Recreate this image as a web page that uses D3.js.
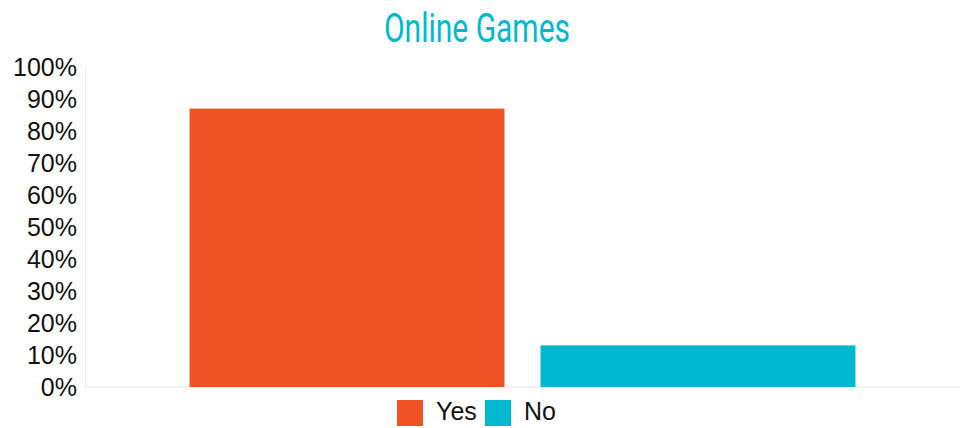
<!DOCTYPE html>
<html><head><meta charset="utf-8">
<script src="https://cdn.jsdelivr.net/npm/d3@7"></script>
<style>body{margin:0;background:#fff;}</style>
</head><body>
<svg id="c" width="966" height="428"></svg>
<script>
const title = "Online Games";
const categories = ["Online Games"];
const seriesNames = ["Yes", "No"];
const seriesValues = [87, 13];
const seriesColors = ["#F05125", "#00B8CF"];
const yTicks = [0,10,20,30,40,50,60,70,80,90,100];

const svg = d3.select("#c");
const m = {l:85, r:6, t:67, b:41};
const W = 966, H = 428;
const x0 = d3.scaleBand().domain(categories).range([m.l, W-m.r]).paddingInner(0).paddingOuter(0.157);
const x1 = d3.scaleBand().domain(seriesNames).range([0, x0.bandwidth()]).paddingInner(0.1026);
const y = d3.scaleLinear().domain([0,100]).range([H-m.b, m.t]);

svg.append("text").attr("x", 384).attr("y", 42)
  .attr("font-family","Roboto,'DejaVu Sans',sans-serif")
  .attr("font-size", 40).attr("fill","#00B8CF")
  .attr("textLength", 186).attr("lengthAdjust","spacingAndGlyphs").text(title);

const ax = svg.append("g").attr("transform",`translate(${m.l},0)`)
  .call(d3.axisLeft(y).tickValues(yTicks).tickFormat(d=>d+"%").tickSize(0).tickPadding(8));
ax.select(".domain").attr("stroke","#ececec");
ax.selectAll("text").attr("font-family","'Liberation Sans',Arial,sans-serif").attr("font-size",25).attr("fill","#111");

svg.append("line").attr("x1",m.l).attr("x2",W-m.r).attr("y1",y(0)).attr("y2",y(0)).attr("stroke","#e6e6e6");

const g = svg.append("g");
categories.forEach(c=>{
  g.selectAll(null).data(seriesNames).enter().append("rect")
    .attr("x", (d)=>x0(c)+x1(d)).attr("width", x1.bandwidth())
    .attr("y", (d,i)=>y(seriesValues[i])).attr("height",(d,i)=>y(0)-y(seriesValues[i]))
    .attr("fill",(d,i)=>seriesColors[i]);
});

const lg = svg.append("g");
const lx = [397, 485];
seriesNames.forEach((s,i)=>{
  lg.append("rect").attr("x",lx[i]).attr("y",400).attr("width",26).attr("height",26).attr("fill",seriesColors[i]);
  lg.append("text").attr("x",lx[i]+39).attr("y",420).attr("font-family","'Liberation Sans',Arial,sans-serif")
    .attr("font-size",25).attr("fill","#111").text(s);
});
</script>
</body></html>
